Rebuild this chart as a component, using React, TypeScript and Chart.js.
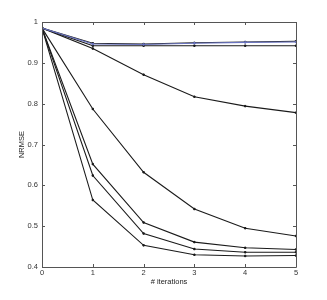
import React, { useEffect, useRef } from "react";
import { Chart, registerables } from "chart.js";

Chart.register(...registerables);

const iterations = [0, 1, 2, 3, 4, 5];
const seriesA = [0.985, 0.948, 0.946, 0.949, 0.951, 0.953];
const seriesB = [0.985, 0.946, 0.945, 0.948, 0.95, 0.951];
const seriesC = [0.985, 0.942, 0.942, 0.942, 0.942, 0.942];
const seriesD = [0.985, 0.935, 0.871, 0.817, 0.794, 0.778];
const seriesE = [0.985, 0.787, 0.632, 0.542, 0.495, 0.476];
const seriesF = [0.985, 0.652, 0.509, 0.461, 0.447, 0.443];
const seriesG = [0.985, 0.624, 0.482, 0.444, 0.436, 0.436];
const seriesH = [0.985, 0.564, 0.453, 0.43, 0.427, 0.428];
const xTicks = [0, 1, 2, 3, 4, 5];
const yTicks = [0.4, 0.5, 0.6, 0.7, 0.8, 0.9, 1];

const FONT = "'Liberation Sans', Arial, sans-serif";

const boxPlugin = {
  id: "boxTicks",
  afterDraw(chart: any) {
    const { ctx, chartArea } = chart;
    const { left, right, top, bottom } = chartArea;
    const xs = chart.scales.x;
    const ys = chart.scales.y;
    ctx.save();
    ctx.strokeStyle = "#555";
    ctx.lineWidth = 1;
    ctx.beginPath();
    ctx.rect(Math.round(left) + 0.5, Math.round(top) + 0.5, Math.round(right - left), Math.round(bottom - top));
    ctx.stroke();
    const len = 3;
    ctx.beginPath();
    xTicks.forEach((t) => {
      const px = Math.round(xs.getPixelForValue(t)) + 0.5;
      ctx.moveTo(px, bottom);
      ctx.lineTo(px, bottom - len);
      ctx.moveTo(px, top);
      ctx.lineTo(px, top + len);
    });
    yTicks.forEach((t) => {
      const py = Math.round(ys.getPixelForValue(t)) + 0.5;
      ctx.moveTo(left, py);
      ctx.lineTo(left + len, py);
      ctx.moveTo(right, py);
      ctx.lineTo(right - len, py);
    });
    ctx.stroke();
    ctx.restore();
  },
};

export default function App() {
  const ref = useRef<HTMLCanvasElement>(null);
  useEffect(() => {
    if (!ref.current) return;
    const mk = (data: number[], color: string) => ({
      data: iterations.map((x, i) => ({ x, y: data[i] })),
      borderColor: color,
      backgroundColor: color,
      borderWidth: 1.1,
      pointRadius: 1,
      pointStyle: "rect",
      pointBorderWidth: 1,
      fill: false,
      tension: 0,
    });
    const chart = new Chart(ref.current, {
      type: "line",
      data: {
        datasets: [
          mk(seriesB, "#6a74c0"),
          mk(seriesA, "#1a1a1a"),
          mk(seriesC, "#1a1a1a"),
          mk(seriesD, "#1a1a1a"),
          mk(seriesE, "#1a1a1a"),
          mk(seriesF, "#1a1a1a"),
          mk(seriesG, "#1a1a1a"),
          mk(seriesH, "#1a1a1a"),
        ],
      },
      options: {
        animation: false,
        responsive: false,
        maintainAspectRatio: false,
        layout: { padding: { left: 17, right: 31, top: 22, bottom: 14 } },
        plugins: { legend: { display: false }, tooltip: { enabled: false } },
        scales: {
          x: {
            type: "linear",
            min: 0,
            max: 5,
            afterBuildTicks: (s: any) => {
              s.ticks = xTicks.map((v) => ({ value: v }));
            },
            afterFit: (s: any) => {
              s.height = 19;
            },
            grid: { display: false, drawTicks: false },
            border: { display: false },
            ticks: {
              color: "#333",
              font: { family: FONT, size: 7.5 },
              padding: 1,
              callback: (v: any) => String(v),
            },
            title: {
              display: true,
              text: "# iterations",
              color: "#222",
              font: { family: FONT, size: 7.5 },
              padding: { top: 1, bottom: 0 },
            },
          },
          y: {
            type: "linear",
            min: 0.4,
            max: 1,
            afterBuildTicks: (s: any) => {
              s.ticks = yTicks.map((v) => ({ value: v }));
            },
            afterFit: (s: any) => {
              s.width = 25;
            },
            grid: { display: false, drawTicks: false },
            border: { display: false },
            ticks: {
              color: "#333",
              font: { family: FONT, size: 7.5 },
              padding: 4,
              callback: (v: any) => String(Number(Number(v).toFixed(1))),
            },
            title: {
              display: true,
              text: "NRMSE",
              color: "#222",
              font: { family: FONT, size: 7.5 },
              padding: { top: 0, bottom: 0 },
            },
          },
        },
      },
      plugins: [boxPlugin],
    } as any);
    return () => chart.destroy();
  }, []);
  return (
    <div style={{ position: "fixed", left: 0, top: 0, width: 327, height: 300, background: "#fff" }}>
      <canvas ref={ref} width={327} height={300} style={{ width: 327, height: 300 }} />
    </div>
  );
}
